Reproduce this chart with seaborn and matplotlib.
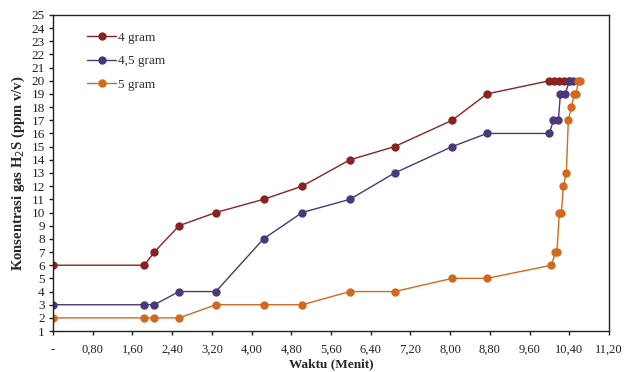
import numpy as np
import pandas as pd
import seaborn as sns
import matplotlib
matplotlib.use("Agg")
import matplotlib.pyplot as plt

# Data
x_4g = [0, 1.84, 2.04, 2.54, 3.28, 4.24, 5.02, 5.98, 6.88, 8.04, 8.74, 10.0, 10.1, 10.2, 10.3, 10.4]
y_4g = [6, 6, 7, 9, 10, 11, 12, 14, 15, 17, 19, 20, 20, 20, 20, 20]

x_45g = [0, 1.84, 2.04, 2.54, 3.28, 4.24, 5.02, 5.98, 6.88, 8.04, 8.74, 10.0, 10.08, 10.18, 10.22, 10.32, 10.4, 10.48]
y_45g = [3, 3, 3, 4, 4, 8, 10, 11, 13, 15, 16, 16, 17, 17, 19, 19, 20, 20]

x_5g = [0, 1.84, 2.04, 2.54, 3.28, 4.24, 5.02, 5.98, 6.88, 8.04, 8.74, 10.04, 10.12, 10.15, 10.2, 10.24,
        10.28, 10.34, 10.38, 10.44, 10.5, 10.54, 10.58, 10.62]
y_5g = [2, 2, 2, 2, 3, 3, 3, 4, 4, 5, 5, 6, 7, 7, 10, 10, 12, 13, 17, 18, 19, 19, 20, 20]

series_names = ["4 gram", "4,5 gram", "5 gram"]
colors = ["#8B2222", "#4A3877", "#D2691E"]

x_ticks = [0, 0.8, 1.6, 2.4, 3.2, 4.0, 4.8, 5.6, 6.4, 7.2, 8.0, 8.8, 9.6, 10.4, 11.2]
x_tick_labels = ["-", "0,80", "1,60", "2,40", "3,20", "4,00", "4,80", "5,60", "6,40",
                 "7,20", "8,00", "8,80", "9,60", "10,40", "11,20"]
y_ticks = list(range(1, 26))

df = pd.concat([
    pd.DataFrame({"Waktu": x_4g, "Konsentrasi": y_4g, "Massa": series_names[0]}),
    pd.DataFrame({"Waktu": x_45g, "Konsentrasi": y_45g, "Massa": series_names[1]}),
    pd.DataFrame({"Waktu": x_5g, "Konsentrasi": y_5g, "Massa": series_names[2]}),
], ignore_index=True)

sns.set_style("ticks")
plt.rcParams["font.family"] = ["Liberation Serif", "DejaVu Serif"]

fig = plt.figure(figsize=(6.24, 3.72), dpi=100)
ax = fig.add_axes([0.085, 0.110, 0.891, 0.850])

sns.lineplot(data=df, x="Waktu", y="Konsentrasi", hue="Massa", hue_order=series_names,
             palette=colors, marker="o", markersize=6, markeredgewidth=0,
             linewidth=1.0, estimator=None, sort=False, ax=ax)

ax.set_xlim(0, 11.2)
ax.set_ylim(1, 25)
ax.set_xticks(x_ticks)
ax.set_xticklabels(x_tick_labels, fontsize=9, color="#222222")
ax.set_yticks(y_ticks)
ax.set_yticklabels([str(v) for v in y_ticks], fontsize=9.5, color="#222222")
ax.tick_params(axis="both", direction="out", length=3, width=1, colors="#222222", pad=3)
ax.tick_params(axis="x", pad=6)

for side in ["left", "bottom", "top", "right"]:
    ax.spines[side].set_visible(True)
    ax.spines[side].set_color("#222222")
    ax.spines[side].set_linewidth(1.0)

ax.set_xlabel("Waktu (Menit)", fontsize=9.5, fontweight="bold", labelpad=2)
ax.set_ylabel("Konsentrasi gas H$_2$S (ppm v/v)", fontsize=10.5, fontweight="bold", labelpad=3)

leg = ax.legend(loc="upper left", bbox_to_anchor=(0.04, 0.985), frameon=False,
                fontsize=9.5, handlelength=2.2, handletextpad=0.1, labelspacing=0.85)
for t in leg.get_texts():
    t.set_color("#333333")

fig.savefig("out.png", dpi=100)
